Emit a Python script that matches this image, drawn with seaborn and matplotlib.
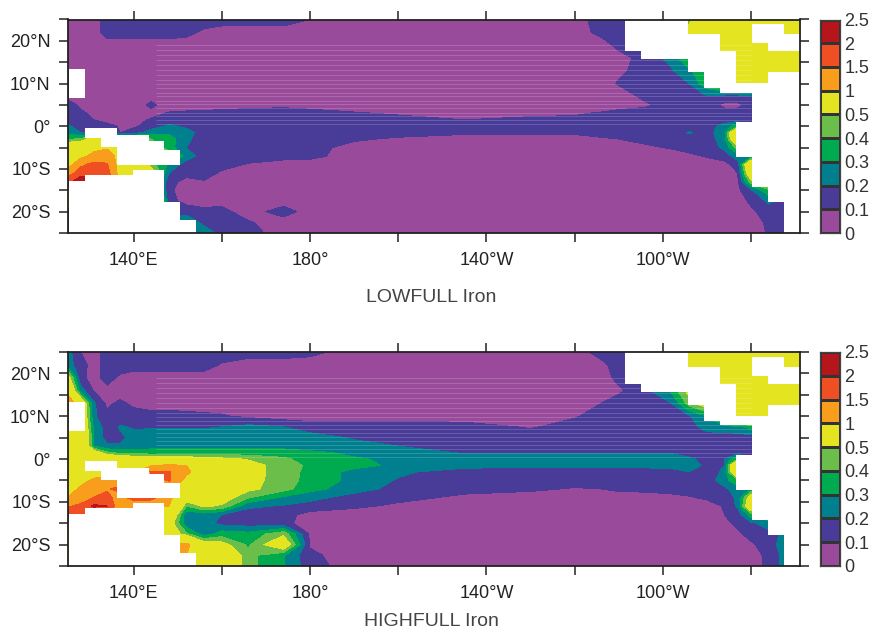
import matplotlib
matplotlib.use('Agg')
import matplotlib.pyplot as plt
import numpy as np
import seaborn as sns

# grid of the iron field, values in 0.01 units
lons = [125, 128, 131, 134, 137, 140, 144, 148, 152, 156, 160, 166, 174, 180, 190, 200, 215, 230, 240, 246, 250, 256, 262, 266, 270, 274, 277, 280, 284, 288, 291]
lats = [25, 22, 19, 16, 13, 10, 7.5, 5, 3, 1.5, 0, -1.5, -3, -5, -7, -9, -11, -13, -15, -17.5, -20, -22.5, -25]

low_iron = [
    [5, 5, 5, 15, 15, 15, 15, 15, 15, 15, 15, 15, 15, 10, 5, 5, 5, 5, 5, 15, 15, 25, 35, 45, 75, 75, 75, 75, 75, 75, 75],
    [5, 5, 5, 15, 15, 15, 15, 15, 13, 8, 5, 5, 5, 5, 5, 5, 5, 5, 5, 13, 15, 25, 35, 60, 75, 75, 75, 75, 75, 75, 75],
    [5, 5, 5, 5, 5, 5, 5, 5, 5, 5, 5, 5, 5, 5, 5, 5, 5, 5, 5, 5, 13, 15, 25, 60, 75, 75, 75, 75, 75, 75, 75],
    [5, 5, 5, 5, 5, 5, 5, 5, 5, 5, 5, 5, 5, 5, 5, 5, 5, 5, 5, 5, 6, 14, 23, 40, 55, 65, 75, 75, 75, 75, 75],
    [5, 5, 5, 5, 5, 5, 5, 5, 5, 5, 5, 5, 5, 5, 5, 5, 5, 5, 5, 5, 8, 14, 19, 28, 40, 55, 75, 75, 75, 75, 75],
    [5, 5, 5, 5, 5, 5, 5, 5, 5, 5, 5, 5, 5, 5, 5, 5, 5, 5, 5, 5, 11, 15, 15, 20, 38, 55, 75, 75, 75, 75, 75],
    [5, 5, 5, 5, 5, 5, 5, 5, 5, 5, 5, 5, 5, 5, 5, 5, 5, 5, 5, 5, 5, 14, 15, 15, 21, 21, 21, 21, 21, 21, 21],
    [15, 8, 5, 5, 5, 5, 12, 5, 5, 5, 6, 7, 8, 7, 5, 5, 5, 5, 5, 5, 6, 8, 15, 15, 15, 7, 7, 15, 15, 15, 15],
    [15, 12, 8, 5, 5, 5, 7, 11, 12, 13, 13, 14, 14, 13, 11, 9, 5, 8, 9, 11, 13, 15, 15, 15, 15, 15, 15, 15, 15, 15, 15],
    [15, 15, 10, 7, 6, 7, 11, 15, 15, 15, 15, 15, 15, 15, 14, 13, 10, 12, 12, 14, 15, 15, 15, 15, 15, 15, 15, 15, 15, 15, 15],
    [22, 15, 14, 13, 9, 8, 15, 22, 18, 15, 15, 15, 15, 15, 15, 15, 15, 15, 15, 15, 15, 15, 15, 15, 15, 24, 35, 15, 15, 15, 15],
    [27, 20, 15, 12, 10, 15, 25, 28, 24, 15, 15, 15, 15, 15, 15, 15, 12, 12, 12, 15, 15, 15, 15, 21, 15, 28, 90, 15, 15, 15, 15],
    [38, 42, 60, 60, 60, 55, 40, 35, 22, 15, 15, 15, 15, 15, 12, 8, 5, 5, 5, 8, 10, 13, 15, 15, 15, 25, 80, 15, 15, 15, 15],
    [70, 72, 85, 95, 90, 80, 50, 35, 20, 15, 15, 15, 15, 15, 5, 5, 5, 5, 5, 5, 6, 8, 11, 15, 15, 22, 45, 15, 15, 15, 15],
    [75, 85, 115, 125, 80, 60, 60, 50, 25, 15, 15, 15, 14, 13, 5, 5, 5, 5, 5, 5, 5, 5, 5, 7, 11, 15, 25, 25, 15, 15, 15],
    [75, 140, 165, 155, 75, 70, 45, 28, 15, 15, 14, 9, 5, 5, 5, 5, 5, 5, 5, 5, 5, 5, 5, 5, 5, 6, 15, 80, 15, 15, 15],
    [125, 175, 185, 170, 75, 75, 60, 20, 12, 15, 8, 5, 5, 5, 5, 5, 5, 5, 5, 5, 5, 5, 5, 5, 5, 5, 10, 70, 15, 15, 15],
    [180, 240, 240, 210, 100, 100, 60, 12, 8, 9, 5, 5, 5, 5, 5, 5, 5, 5, 5, 5, 5, 5, 5, 5, 5, 5, 9, 45, 60, 15, 15],
    [100, 100, 100, 100, 100, 100, 60, 12, 5, 5, 5, 5, 5, 5, 5, 5, 5, 5, 5, 5, 5, 5, 5, 5, 5, 5, 8, 18, 38, 25, 15],
    [100, 100, 100, 100, 100, 100, 100, 13, 7, 5, 7, 5, 5, 5, 5, 5, 5, 5, 5, 5, 5, 5, 5, 5, 5, 5, 5, 12, 22, 15, 15],
    [15, 15, 15, 15, 15, 15, 15, 15, 15, 13, 13, 5, 15, 5, 5, 5, 5, 5, 5, 5, 5, 5, 5, 5, 5, 5, 5, 8, 15, 15, 15],
    [30, 30, 30, 30, 30, 30, 30, 30, 30, 16, 15, 11, 5, 5, 5, 5, 5, 5, 5, 5, 5, 5, 5, 5, 5, 5, 5, 5, 12, 15, 15],
    [30, 30, 30, 30, 30, 30, 30, 30, 30, 28, 15, 14, 5, 5, 5, 5, 5, 5, 5, 5, 5, 5, 5, 5, 5, 5, 5, 5, 11, 15, 15],
]

high_iron = [
    [25, 10, 6, 14, 15, 15, 15, 15, 15, 15, 15, 15, 15, 13, 5, 5, 5, 5, 5, 14, 15, 20, 60, 75, 75, 75, 75, 75, 75, 75, 75],
    [25, 14, 6, 14, 15, 15, 15, 15, 15, 15, 9, 5, 5, 5, 5, 5, 5, 5, 5, 7, 15, 20, 60, 75, 75, 75, 75, 75, 75, 75, 75],
    [60, 13, 6, 14, 8, 5, 5, 5, 5, 5, 5, 5, 5, 5, 5, 5, 5, 5, 5, 5, 13, 15, 60, 75, 75, 75, 75, 75, 75, 75, 75],
    [80, 25, 9, 7, 5, 5, 5, 5, 5, 5, 5, 5, 5, 5, 5, 5, 5, 5, 5, 5, 8, 17, 32, 55, 60, 70, 75, 75, 75, 75, 75],
    [140, 70, 22, 8, 12, 8, 6, 5, 5, 5, 5, 5, 5, 5, 5, 5, 5, 5, 5, 10, 15, 15, 20, 45, 60, 70, 75, 75, 75, 75, 75],
    [75, 75, 22, 12, 15, 14, 13, 14, 13, 12, 11, 8, 5, 5, 5, 5, 5, 5, 9, 14, 15, 15, 15, 19, 30, 60, 75, 75, 75, 75, 75],
    [75, 75, 28, 15, 21, 19, 19, 19, 19, 19, 20, 23, 20, 15, 15, 15, 14, 9, 14, 15, 15, 15, 15, 16, 24, 26, 27, 34, 15, 15, 15],
    [85, 85, 30, 15, 18, 23, 25, 25, 25, 25, 25, 25, 25, 24, 19, 15, 15, 15, 15, 15, 15, 15, 15, 15, 15, 15, 15, 15, 15, 15, 15],
    [90, 85, 30, 22, 21, 24, 27, 27, 28, 28, 28, 28, 27, 25, 23, 20, 15, 15, 15, 15, 15, 15, 15, 15, 15, 15, 15, 15, 15, 15, 15],
    [90, 90, 60, 42, 36, 35, 34, 34, 34, 34, 34, 34, 34, 32, 28, 25, 19, 19, 19, 19, 19, 19, 19, 15, 15, 15, 15, 15, 15, 15, 15],
    [90, 90, 80, 70, 65, 62, 60, 60, 58, 56, 53, 49, 42, 35, 31, 28, 25, 25, 25, 25, 25, 25, 25, 22, 16, 20, 40, 15, 15, 15, 15],
    [90, 85, 80, 75, 75, 85, 98, 105, 100, 75, 70, 55, 45, 38, 33, 28, 24, 22, 22, 22, 22, 23, 22, 24, 18, 20, 90, 15, 15, 15, 15],
    [85, 85, 85, 85, 85, 85, 155, 155, 110, 70, 65, 55, 45, 37, 27, 22, 15, 15, 15, 15, 15, 15, 18, 20, 15, 22, 80, 15, 15, 15, 15],
    [85, 90, 105, 115, 120, 125, 125, 155, 85, 65, 62, 55, 44, 37, 27, 19, 15, 15, 15, 15, 15, 15, 15, 15, 15, 25, 40, 15, 15, 15, 15],
    [85, 105, 125, 145, 165, 160, 150, 100, 60, 58, 55, 53, 44, 33, 25, 16, 13, 12, 9, 10, 12, 13, 14, 15, 15, 18, 25, 30, 15, 15, 15],
    [100, 125, 150, 165, 125, 175, 170, 110, 60, 58, 58, 41, 28, 24, 15, 13, 8, 5, 5, 5, 5, 5, 7, 9, 12, 15, 22, 60, 15, 15, 15],
    [145, 160, 210, 200, 110, 105, 100, 100, 40, 52, 48, 22, 19, 15, 12, 8, 5, 5, 5, 5, 5, 5, 5, 5, 5, 11, 22, 70, 15, 15, 15],
    [170, 150, 130, 120, 110, 100, 90, 75, 22, 25, 20, 15, 13, 7, 5, 5, 5, 5, 5, 5, 5, 5, 5, 5, 5, 10, 15, 35, 40, 15, 15],
    [100, 100, 100, 100, 100, 100, 90, 60, 23, 24, 17, 15, 13, 5, 5, 5, 5, 5, 5, 5, 5, 5, 5, 5, 5, 7, 13, 18, 25, 15, 15],
    [100, 100, 100, 100, 100, 100, 100, 65, 42, 24, 35, 33, 47, 8, 5, 5, 5, 5, 5, 5, 5, 5, 5, 5, 5, 5, 8, 14, 17, 22, 15],
    [100, 100, 100, 100, 100, 100, 100, 100, 110, 60, 55, 38, 65, 9, 5, 5, 5, 5, 5, 5, 5, 5, 5, 5, 5, 5, 5, 8, 16, 25, 15],
    [100, 100, 100, 100, 100, 100, 100, 100, 100, 70, 70, 43, 31, 12, 5, 5, 5, 5, 5, 5, 5, 5, 5, 5, 5, 5, 5, 5, 13, 24, 15],
    [100, 100, 100, 100, 100, 100, 100, 100, 110, 90, 70, 43, 31, 14, 5, 5, 5, 5, 5, 5, 5, 5, 5, 5, 5, 5, 5, 5, 13, 24, 15],
]

# land cells: row edges in latitude, then runs of model columns for each row
land_lat_edges = [25, 23.9, 21.5, 19.5, 17.6, 15.7, 13.3, 12.7, 10.1, 8.9, 7.9, 6.6, 0.9, -0.5, -2.1, -2.7, -3.5, -4.8, -5.6, -7.3, -9.1, -10.3, -11.5, -12.9, -14.3, -17.8, -21.9, -25]
land_runs = [
    [(35, 39)],
    [(35, 39), (43, 45)],
    [(35, 41), (43, 46)],
    [(35, 41), (44, 46)],
    [(36, 42)],
    [(39, 42)],
    [(0, 1), (39, 42)],
    [(0, 1), (40, 42), (44, 46)],
    [(0, 1), (40, 46)],
    [(0, 1), (41, 46)],
    [(0, 1), (43, 46)],
    [(43, 46)],
    [(42, 46)],
    [(1, 3), (42, 46)],
    [(1, 5), (42, 46)],
    [(2, 5), (42, 46)],
    [(2, 6), (42, 46)],
    [(3, 6), (42, 46)],
    [(3, 7), (42, 46)],
    [(3, 7), (43, 46)],
    [(43, 46)],
    [(4, 6), (43, 46)],
    [(1, 6), (43, 46)],
    [(0, 6), (43, 46)],
    [(0, 6), (44, 46)],
    [(0, 7), (45, 46)],
    [(0, 8), (45, 46)],
]

# faint seams between model rows that show through the fill
seam_lats = [19, 17.8, 16.6, 15.5, 14.3, 13.1, 12, 10.8, 9.8, 8.9, 7.9, 7, 6, 5.1, 4.2, 3.2, 2.3, 1.4, 0.5]

levels = [0, 10, 20, 30, 40, 50, 100, 150, 200, 250]
level_labels = ['2.5', '2', '1.5', '1', '0.5', '0.4', '0.3', '0.2', '0.1', '0']
level_colors = ['#9a4a9a', '#483c98', '#00808f', '#00aa4e', '#6bbe4a', '#e4e420', '#f99d1c', '#f04e23', '#b5161b']
lon_ticks = [140, 160, 180, 200, 220, 240, 260, 280]
lon_labels = ['140°E', '', '180°', '', '140°W', '', '100°W', '']
lat_ticks = [-25, -20, -15, -10, -5, 0, 5, 10, 15, 20, 25]
lat_labels = ['', '20°S', '', '10°S', '', '0°', '', '10°N', '', '20°N', '']
panel_titles = ['LOWFULL Iron', 'HIGHFULL Iron']

sns.set_theme(style='ticks')
plt.rcParams['font.family'] = ['Liberation Sans', 'DejaVu Sans']

W, H = 872, 629
palette = sns.color_palette(level_colors)

# land mask on the model grid, 3.6 degree columns
col_edges = 125.4 + 3.6 * np.arange(47)
land = np.full((len(land_runs), 46), np.nan)
for i, runs in enumerate(land_runs):
    for start, stop in runs:
        land[i, start:stop] = 1

fig = plt.figure(figsize=(W / 100, H / 100), dpi=100)

panels = [(low_iron, 19.5, 233, 302), (high_iron, 352, 566, 626)]
for (field, top, bottom, title_y), title in zip(panels, panel_titles):
    ax = fig.add_axes([68 / W, 1 - bottom / H, (800 - 68) / W, (bottom - top) / H])
    ax.contourf(lons, lats, np.array(field), levels=levels, colors=palette, zorder=1)
    ax.hlines(seam_lats, 145, 280, color='white', linewidth=0.6, alpha=0.2, zorder=1.1)
    ax.pcolormesh(col_edges, land_lat_edges, land, cmap=matplotlib.colors.ListedColormap(['white']),
                  shading='flat', zorder=1.2)
    ax.set_xlim(125.15, 291.1)
    ax.set_ylim(-25, 25)
    ax.set_xticks(lon_ticks, lon_labels)
    ax.set_yticks(lat_ticks, lat_labels)
    ax.tick_params(direction='out', length=6.5, width=1.1, color='#222222', labelsize=13,
                   labelcolor='#222222', top=True, right=True, pad=6)
    ax.tick_params(axis='x', pad=7)
    for s in ax.spines.values():
        s.set_linewidth(1.3)
        s.set_color('#222222')
    fig.text(431 / W, 1 - title_y / H, title, ha='center', va='baseline', fontsize=14, color='#444444')

    # colour key as a one column heatmap
    cax = fig.add_axes([819.5 / W, 1 - bottom / H, 20 / W, (bottom - top) / H])
    key = np.arange(len(level_colors))[::-1].reshape(-1, 1)
    sns.heatmap(key, ax=cax, cmap=palette, cbar=False, linewidths=0.9, linecolor='#333333',
                xticklabels=False, yticklabels=False)
    cax.set_yticks(range(len(level_labels)), level_labels, rotation=0)
    cax.yaxis.tick_right()
    cax.tick_params(length=0, labelsize=13, labelcolor='#333333', pad=3.5)
    for s in cax.spines.values():
        s.set_visible(True)
        s.set_linewidth(0.9)
        s.set_color('#444444')

fig.savefig('out.png', dpi=100)
